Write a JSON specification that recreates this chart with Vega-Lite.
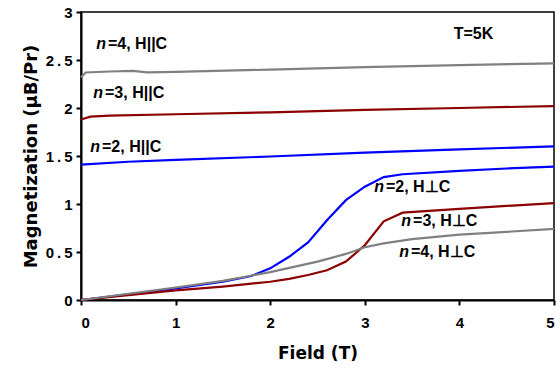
{
  "$schema": "https://vega.github.io/schema/vega-lite/v6.json",
  "width": 473,
  "height": 288,
  "autosize": {"type": "none"},
  "padding": {"left": 81, "top": 12, "right": 6, "bottom": 68},
  "background": "white",
  "config": {
    "font": "Liberation Sans",
    "view": {"stroke": "black", "strokeWidth": 1.5},
    "axis": {
      "grid": false,
      "domainColor": "black",
      "domainWidth": 2,
      "tickColor": "black",
      "tickWidth": 2,
      "tickSize": 5,
      "labelColor": "black",
      "labelFont": "Liberation Sans",
      "labelFontWeight": "bold",
      "labelFontSize": 15,
      "titleColor": "black",
      "titleFont": "DejaVu Sans",
      "titleFontWeight": "bold",
      "titleFontSize": 17
    }
  },
  "datasets": {
    "curves": [
      {"field": 0.0, "m": 1.41, "n": "n=2", "dir": "par"},
      {"field": 0.5, "m": 1.44, "n": "n=2", "dir": "par"},
      {"field": 1.0, "m": 1.46, "n": "n=2", "dir": "par"},
      {"field": 2.0, "m": 1.495, "n": "n=2", "dir": "par"},
      {"field": 3.0, "m": 1.535, "n": "n=2", "dir": "par"},
      {"field": 4.0, "m": 1.57, "n": "n=2", "dir": "par"},
      {"field": 5.0, "m": 1.6, "n": "n=2", "dir": "par"},

      {"field": 0.0, "m": 1.88, "n": "n=3", "dir": "par"},
      {"field": 0.1, "m": 1.91, "n": "n=3", "dir": "par"},
      {"field": 0.3, "m": 1.92, "n": "n=3", "dir": "par"},
      {"field": 1.0, "m": 1.935, "n": "n=3", "dir": "par"},
      {"field": 2.0, "m": 1.955, "n": "n=3", "dir": "par"},
      {"field": 3.0, "m": 1.98, "n": "n=3", "dir": "par"},
      {"field": 4.0, "m": 2.0, "n": "n=3", "dir": "par"},
      {"field": 5.0, "m": 2.02, "n": "n=3", "dir": "par"},

      {"field": 0.0, "m": 2.32, "n": "n=4", "dir": "par"},
      {"field": 0.05, "m": 2.37, "n": "n=4", "dir": "par"},
      {"field": 0.3, "m": 2.38, "n": "n=4", "dir": "par"},
      {"field": 0.55, "m": 2.386, "n": "n=4", "dir": "par"},
      {"field": 0.7, "m": 2.372, "n": "n=4", "dir": "par"},
      {"field": 1.0, "m": 2.376, "n": "n=4", "dir": "par"},
      {"field": 2.0, "m": 2.4, "n": "n=4", "dir": "par"},
      {"field": 3.0, "m": 2.425, "n": "n=4", "dir": "par"},
      {"field": 4.0, "m": 2.447, "n": "n=4", "dir": "par"},
      {"field": 5.0, "m": 2.465, "n": "n=4", "dir": "par"},

      {"field": 0.0, "m": 0.0, "n": "n=2", "dir": "perp"},
      {"field": 0.5, "m": 0.06, "n": "n=2", "dir": "perp"},
      {"field": 1.0, "m": 0.12, "n": "n=2", "dir": "perp"},
      {"field": 1.5, "m": 0.19, "n": "n=2", "dir": "perp"},
      {"field": 1.8, "m": 0.25, "n": "n=2", "dir": "perp"},
      {"field": 2.0, "m": 0.33, "n": "n=2", "dir": "perp"},
      {"field": 2.2, "m": 0.45, "n": "n=2", "dir": "perp"},
      {"field": 2.4, "m": 0.6, "n": "n=2", "dir": "perp"},
      {"field": 2.6, "m": 0.83, "n": "n=2", "dir": "perp"},
      {"field": 2.8, "m": 1.04, "n": "n=2", "dir": "perp"},
      {"field": 3.0, "m": 1.18, "n": "n=2", "dir": "perp"},
      {"field": 3.2, "m": 1.28, "n": "n=2", "dir": "perp"},
      {"field": 3.4, "m": 1.31, "n": "n=2", "dir": "perp"},
      {"field": 4.0, "m": 1.345, "n": "n=2", "dir": "perp"},
      {"field": 4.5, "m": 1.37, "n": "n=2", "dir": "perp"},
      {"field": 5.0, "m": 1.39, "n": "n=2", "dir": "perp"},

      {"field": 0.0, "m": 0.0, "n": "n=3", "dir": "perp"},
      {"field": 0.5, "m": 0.05, "n": "n=3", "dir": "perp"},
      {"field": 1.0, "m": 0.1, "n": "n=3", "dir": "perp"},
      {"field": 1.5, "m": 0.14, "n": "n=3", "dir": "perp"},
      {"field": 2.0, "m": 0.19, "n": "n=3", "dir": "perp"},
      {"field": 2.2, "m": 0.22, "n": "n=3", "dir": "perp"},
      {"field": 2.4, "m": 0.26, "n": "n=3", "dir": "perp"},
      {"field": 2.6, "m": 0.31, "n": "n=3", "dir": "perp"},
      {"field": 2.8, "m": 0.4, "n": "n=3", "dir": "perp"},
      {"field": 3.0, "m": 0.57, "n": "n=3", "dir": "perp"},
      {"field": 3.2, "m": 0.82, "n": "n=3", "dir": "perp"},
      {"field": 3.4, "m": 0.91, "n": "n=3", "dir": "perp"},
      {"field": 4.0, "m": 0.95, "n": "n=3", "dir": "perp"},
      {"field": 4.5, "m": 0.98, "n": "n=3", "dir": "perp"},
      {"field": 5.0, "m": 1.01, "n": "n=3", "dir": "perp"},

      {"field": 0.0, "m": 0.0, "n": "n=4", "dir": "perp"},
      {"field": 0.5, "m": 0.065, "n": "n=4", "dir": "perp"},
      {"field": 1.0, "m": 0.13, "n": "n=4", "dir": "perp"},
      {"field": 1.5, "m": 0.2, "n": "n=4", "dir": "perp"},
      {"field": 2.0, "m": 0.29, "n": "n=4", "dir": "perp"},
      {"field": 2.5, "m": 0.4, "n": "n=4", "dir": "perp"},
      {"field": 2.8, "m": 0.48, "n": "n=4", "dir": "perp"},
      {"field": 3.0, "m": 0.55, "n": "n=4", "dir": "perp"},
      {"field": 3.2, "m": 0.59, "n": "n=4", "dir": "perp"},
      {"field": 3.5, "m": 0.635, "n": "n=4", "dir": "perp"},
      {"field": 4.0, "m": 0.68, "n": "n=4", "dir": "perp"},
      {"field": 4.5, "m": 0.71, "n": "n=4", "dir": "perp"},
      {"field": 5.0, "m": 0.74, "n": "n=4", "dir": "perp"}
    ],
    "labels": [
      {"field": 0.285, "m": 2.667, "rest": "=4, H||C"},
      {"field": 0.254, "m": 2.156, "rest": "=3, H||C"},
      {"field": 0.222, "m": 1.594, "rest": "=2, H||C"},
      {"field": 3.224, "m": 1.18, "rest": "=2, H⊥C"},
      {"field": 3.51, "m": 0.826, "rest": "=3, H⊥C"},
      {"field": 3.488, "m": 0.503, "rest": "=4, H⊥C"}
    ],
    "note": [
      {"field": 3.94, "m": 2.77, "text": "T=5K"}
    ]
  },
  "layer": [
    {
      "data": {"name": "curves"},
      "mark": {"type": "line", "strokeWidth": 2.2, "interpolate": "linear"},
      "encoding": {
        "x": {
          "field": "field",
          "type": "quantitative",
          "scale": {"domain": [0, 5], "nice": false, "zero": false},
          "axis": {
            "title": "Field (T)",
            "values": [0, 1, 2, 3, 4, 5],
            "format": "d",
            "labelPadding": 10,
            "titlePadding": 15
          }
        },
        "y": {
          "field": "m",
          "type": "quantitative",
          "scale": {"domain": [0, 3], "nice": false},
          "axis": {
            "title": "Magnetization (μB/Pr)",
            "titleFontSize": 18,
            "values": [0, 0.5, 1, 1.5, 2, 2.5, 3],
            "labelExpr": "replace(format(datum.value, '~g'), '.', '\u2009.\u2009')",
            "labelPadding": 4,
            "titlePadding": 5
          }
        },
        "color": {
          "field": "n",
          "type": "nominal",
          "scale": {"domain": ["n=2", "n=3", "n=4"], "range": ["#0000ff", "#8b0000", "#808080"]},
          "legend": null
        },
        "detail": {"field": "dir", "type": "nominal"}
      }
    },
    {
      "data": {"name": "labels"},
      "mark": {"type": "text", "text": "n", "fontStyle": "italic", "fontWeight": "bold", "fontSize": 16, "align": "right", "baseline": "middle", "dx": -2, "color": "black"},
      "encoding": {
        "x": {"field": "field", "type": "quantitative"},
        "y": {"field": "m", "type": "quantitative"}
      }
    },
    {
      "data": {"name": "labels"},
      "mark": {"type": "text", "fontWeight": "bold", "fontSize": 16, "align": "left", "baseline": "middle", "color": "black"},
      "encoding": {
        "x": {"field": "field", "type": "quantitative"},
        "y": {"field": "m", "type": "quantitative"},
        "text": {"field": "rest"}
      }
    },
    {
      "data": {"name": "note"},
      "mark": {"type": "text", "fontWeight": "bold", "fontSize": 16, "align": "left", "baseline": "middle", "color": "black"},
      "encoding": {
        "x": {"field": "field", "type": "quantitative"},
        "y": {"field": "m", "type": "quantitative"},
        "text": {"field": "text"}
      }
    }
  ]
}
